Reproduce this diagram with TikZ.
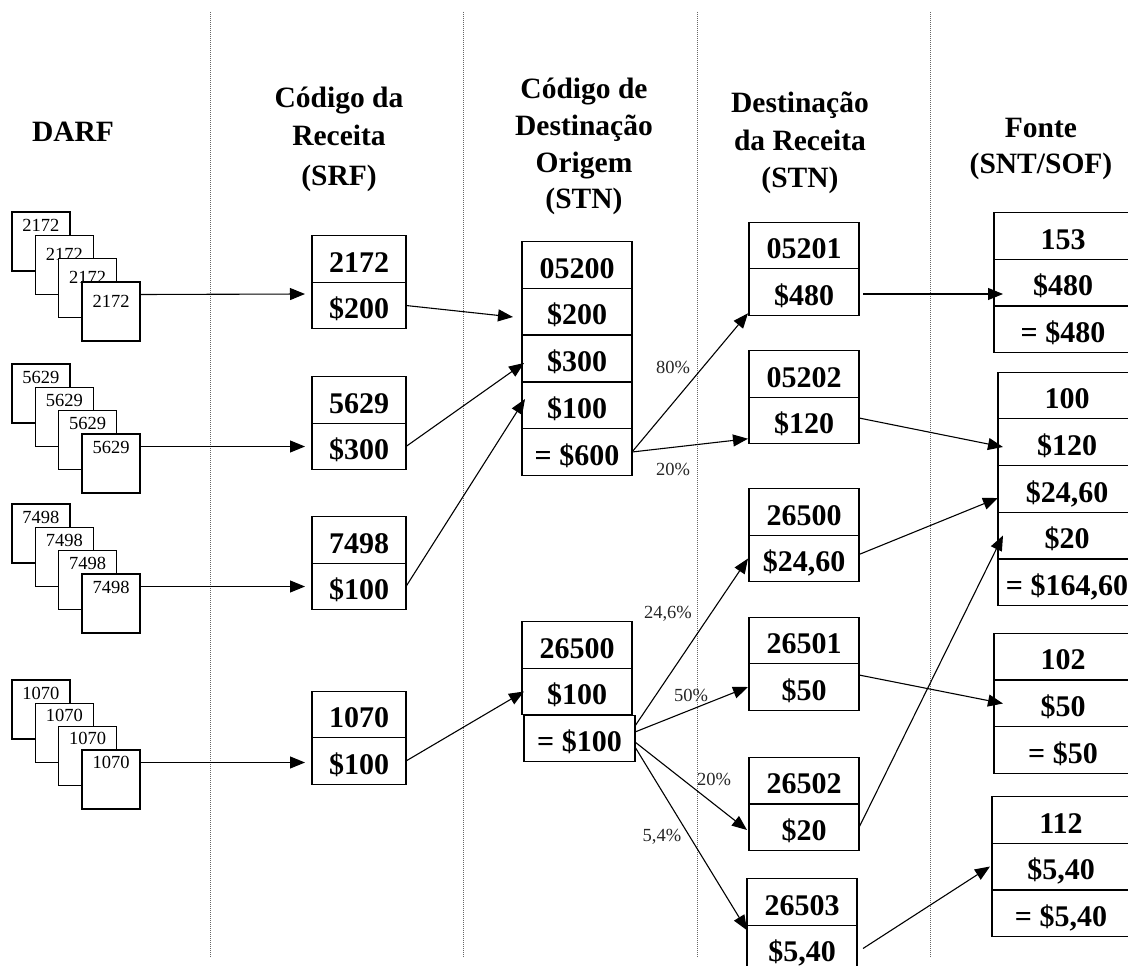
\documentclass[tikz,border=0pt]{standalone}
\usepackage{fontspec}
\setmainfont{Liberation Serif}
\usetikzlibrary{arrows.meta,calc}
\newcommand\bxf{\fontsize{30}{36}\selectfont\bfseries}
\newcommand\hdf{\fontsize{29.5}{37}\selectfont\bfseries}
\newcommand\smf{\fontsize{18.5}{20}\selectfont}
\newcommand\mkstack[4]{%
  \foreach \i/\dx/\ty in {1/0/19,2/23.3/#4,3/46.6/#4,4/70/#4}{
    \node[card] (c#1\i) at (12+\dx,#2+\dx) {};
    \node[cardtxt] (t#1\i) at ($(c#1\i.north)+(0,\ty)$) {#3};
  }}
\begin{document}
\begin{tikzpicture}[x=1pt,y=-1pt,
  cell/.style={draw=black, line width=1.4pt, fill=white, inner xsep=0pt, inner ysep=0pt,
    outer sep=0pt, text height=36.5pt, text depth=10pt, minimum width=#1, font=\bxf},
  card/.style={draw=black, line width=1.2pt, fill=white, minimum width=58pt, minimum height=59pt,
    inner sep=0pt, outer sep=0pt, anchor=north west},
  cardtxt/.style={anchor=base, inner sep=0pt, font=\smf},
  hdr/.style={anchor=base, inner sep=0pt, font=\hdf},
  pct/.style={inner sep=0pt, font=\smf, text=black!85},
  arr/.style={line width=1.1pt, -{Triangle[length=15pt,width=12pt]}},
  sep/.style={black!60, line width=0.8pt, dash pattern=on 1pt off 1pt}]
\useasboundingbox (0,0) rectangle (1128,966);
\clip (0,0) rectangle (1128,966);
% column separators
\foreach \x in {210,463,697,930}{\draw[sep] (\x,12) -- (\x,957);}
% headers
\node[hdr] (hd1) at (73,142) {DARF};
\node[hdr] (hd2a) at (339,107) {Código da};
\node[hdr] (hd2b) at (339,146) {Receita};
\node[hdr] (hd2c) at (339,185) {(SRF)};
\node[hdr] (hd3a) at (584,99) {Código de};
\node[hdr] (hd3b) at (584,135.5) {Destinação};
\node[hdr] (hd3c) at (584,172) {Origem};
\node[hdr] (hd3d) at (584,208.5) {(STN)};
\node[hdr] (hd4a) at (800,112) {Destinação};
\node[hdr] (hd4b) at (800,150) {da Receita};
\node[hdr] (hd4c) at (800,187) {(STN)};
\node[hdr] (hd5a) at (1041,137) {Fonte};
\node[hdr] (hd5b) at (1041,173) {(SNT/SOF)};
% DARF stacks
\mkstack{1}{212}{2172}{25}
\mkstack{2}{364}{5629}{19}
\mkstack{3}{504}{7498}{19}
\mkstack{4}{680}{1070}{18}
% SRF boxes
\node[cell=94pt] (s1a) at (359,259) {2172};
\node[cell=94pt] (s1b) at (359,305.5) {\$200};
\node[cell=94pt] (s2a) at (359,400) {5629};
\node[cell=94pt] (s2b) at (359,446.5) {\$300};
\node[cell=94pt] (s3a) at (359,540) {7498};
\node[cell=94pt] (s3b) at (359,586.5) {\$100};
\node[cell=94pt] (s4a) at (359,714.5) {1070};
\node[cell=94pt] (s4b) at (359,761) {\$100};
% origin boxes
\node[cell=110pt] (o1a) at (577,265) {05200};
\node[cell=110pt] (o1b) at (577,311.5) {\$200};
\node[cell=110pt] (o1c) at (577,358.5) {\$300};
\node[cell=110pt] (o1d) at (577,405.5) {\$100};
\node[cell=110pt] (o1e) at (577,452) {= \$600};
\node[cell=110pt] (o2a) at (577,645) {26500};
\node[cell=110pt] (o2b) at (577,691.5) {\$100};
\node[cell=111pt] (o2c) at (579.5,738.5) {= \$100};
% destination boxes
\node[cell=110pt] (d1a) at (804,245.5) {05201};
\node[cell=110pt] (d1b) at (804,292) {\$480};
\node[cell=110pt] (d2a) at (804,374) {05202};
\node[cell=110pt] (d2b) at (804,420.5) {\$120};
\node[cell=110pt] (d3a) at (804,512) {26500};
\node[cell=110pt] (d3b) at (804,558.5) {\$24,60};
\node[cell=110pt] (d4a) at (804,640.5) {26501};
\node[cell=110pt] (d4b) at (804,687) {\$50};
\node[cell=110pt] (d5a) at (804,780.5) {26502};
\node[cell=110pt] (d5b) at (804,827.5) {\$20};
\node[cell=110pt] (d6a) at (802,902) {26503};
\node[cell=110pt] (d6b) at (802,948.5) {\$5,40};
% fonte boxes
\node[cell=138pt] (f1a) at (1063,236) {153};
\node[cell=138pt] (f1b) at (1063,282.5) {\$480};
\node[cell=138pt] (f1c) at (1063,329.5) {= \$480};
\node[cell=138pt] (f2a) at (1067,395.5) {100};
\node[cell=138pt] (f2b) at (1067,442) {\$120};
\node[cell=138pt] (f2c) at (1067,489) {\$24,60};
\node[cell=138pt] (f2d) at (1067,535.5) {\$20};
\node[cell=138pt] (f2e) at (1067,582.5) {= \$164,60};
\node[cell=138pt] (f3a) at (1063,656.5) {102};
\node[cell=138pt] (f3b) at (1063,703.5) {\$50};
\node[cell=138pt] (f3c) at (1063,750) {= \$50};
\node[cell=138pt] (f4a) at (1061,820) {112};
\node[cell=138pt] (f4b) at (1061,866.5) {\$5,40};
\node[cell=138pt] (f4c) at (1061,913.5) {= \$5,40};
% DARF -> SRF
\draw[arr] ($(c14.north east)+(0,12.5)$) -- ($(s1b.west)+(-7,-11.5)$);
\draw[arr] ($(c24.north east)+(0,12.5)$) -- ($(s2b.west)+(-7,0)$);
\draw[arr] ($(c34.north east)+(0,12.5)$) -- ($(s3b.west)+(-7,0)$);
\draw[arr] ($(c44.north east)+(0,12.5)$) -- ($(s4b.west)+(-7,1.5)$);
% SRF -> origin
\draw[arr] (s1b.east) -- ($(o1b.west)+(-9,5.5)$);
\draw[arr] (s2b.east) -- ($(o1c.west)+(2,4.5)$);
\draw[arr] (s3b.east) -- ($(o1d.west)+(3,-6.5)$);
\draw[arr] (s4b.east) -- ($(o2b.west)+(2,0)$);
% origin -> destination
\draw[arr] (o1e.east) -- ($(d1b.south west)+(-1,-2)$);
\draw[arr] (o1e.east) -- ($(d2b.south west)+(-1,-5)$);
\draw[arr] ($(o2c.east)+(0,-12.5)$) -- ($(d3b.west)+(-1,0)$);
\draw[arr] ($(o2c.east)+(0,-6.5)$) -- ($(d4b.west)+(-1,0)$);
\draw[arr] ($(o2c.east)+(0,3.5)$) -- ($(d5b.west)+(-2,2.5)$);
\draw[arr] ($(o2c.east)+(0,8.5)$) -- ($(d6b.north west)+(0,5)$);
% destination -> fonte
\draw[arr] ($(d1b.east)+(4,2)$) -- ($(f1b.west)+(9,11.5)$);
\draw[arr] ($(d2b.east)+(0,-2.5)$) -- ($(f2b.west)+(5,5)$);
\draw[arr] ($(d3b.east)+(0,-4)$) -- ($(f2c.west)+(0,9)$);
\draw[arr] (d5b.east) -- ($(f2d.west)+(5,0)$);
\draw[arr] ($(d4b.east)+(0,-12)$) -- ($(f3b.west)+(9,0)$);
\draw[arr] ($(d6b.east)+(6,0)$) -- ($(f4b.west)+(-2,0)$);
% percentages
\node[pct] (p1) at (673,367) {80\%};
\node[pct] (p2) at (673,469) {20\%};
\node[pct] (p3) at (668,614) {24,6\%};
\node[pct] (p4) at (691,695) {50\%};
\node[pct] (p5) at (714,779) {20\%};
\node[pct] (p6) at (662,837) {5,4\%};
\end{tikzpicture}
\end{document}
